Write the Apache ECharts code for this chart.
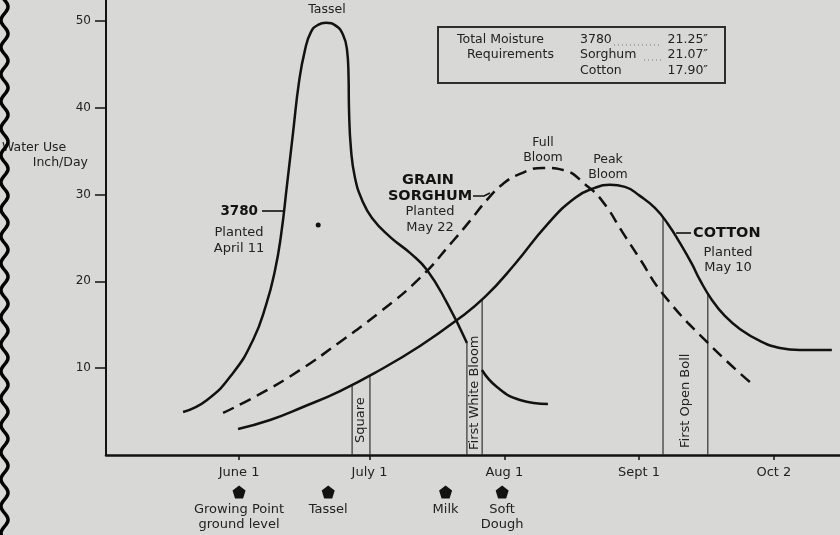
<!DOCTYPE html>
<html><head><meta charset="utf-8">
<script src="https://cdn.jsdelivr.net/npm/echarts@6/dist/echarts.min.js"></script>
<style>html,body{margin:0;padding:0;background:#d8d8d6;}#c{width:840px;height:535px;}</style>
</head><body><div id="c"></div>
<script>
// ---- data (x = days after June 1, y = water use) ----
const xTickDays = [0, 30, 61, 92, 123];
const xTickLabels = ['June 1', 'July 1', 'Aug 1', 'Sept 1', 'Oct 2'];
const yTickValues = [10, 20, 30, 40, 50];

const days3780 = [-12.87,-7.36,-1.38,3.22,6.21,8.28,9.66,11.03,12.41,13.79,15.17,16.55,18.16,20.0,22.30,23.91,24.83,25.17,25.29,25.75,26.67,28.28,30.57,34.71,39.31,43.22,47.82,52.41,54.1,55.86,59.31,64.6,71.03];
const use3780  = [4.95,6.34,9.45,13.25,17.28,21.31,25.35,31.11,37.10,42.97,46.66,48.73,49.54,49.77,49.42,48.39,46.66,43.78,39.75,35.14,31.91,29.38,27.30,25.12,23.27,21.31,17.51,12.90,null,9.79,7.83,6.34,5.88];

const daysSorghum = [-3.68,4.83,14.02,23.22,32.41,41.61,49.2,53.1,57.01,60.69,64.6,69.89,74.48,80.0,83.68,88.28,92.18,97.47,107.82,117.47];
const useSorghum  = [4.84,7.03,9.79,13.02,16.47,20.39,24.65,26.96,29.38,31.22,32.37,33.06,32.83,30.99,29.15,25.58,22.58,18.55,12.9,8.41];

const daysCotton = [-0.23,7.13,14.71,23.22,32.41,41.61,50.11,56.55,63.45,70.8,77.24,81.84,85.29,88.74,92.18,95.63,98.62,101.38,104.14,105.98,108.74,111.72,115.17,119.77,124.37,128.97,136.32];
const useCotton  = [3.0,4.03,5.53,7.37,9.79,12.56,15.55,18.2,22.0,26.5,29.61,30.76,31.11,30.88,29.84,28.46,26.61,24.42,22.0,20.16,17.86,16.01,14.52,13.13,12.33,12.1,12.1];

const boxLabels   = ['Square', 'First White Bloom', 'First Open Boll'];
const boxLeftDay  = [26.0, 52.4, 97.5];
const boxRightDay = [30.1, 55.9, 107.8];
const boxLeftTop  = [8.06, 12.9, 27.3];
const boxRightTop = [9.2, 17.9, 18.5];

const stageLabels = ['Growing Point\nground level', 'Tassel', 'Milk', 'Soft\nDough'];
const stageDays   = [0, 20.5, 47.5, 60.5];

const strayDot = [18.2, 26.5];

// ---- chart ----
const ink = '#121212';
const txt = '#222222';
const FAM = '"DejaVu Sans", sans-serif';
const F = (s, w) => (w || 'normal') + ' ' + s + 'px ' + FAM;
const pair = (xs, ys) => xs.map((x, i) => [x, ys[i] === null ? '-' : ys[i]]);
const boxTextGap = [12, 5, 7];

const wave = [];
for (let y = -10; y <= 545; y += 1) wave.push([4.5 + 3.5 * Math.sin(y * 2 * Math.PI / 27), y]);

const lineBase = { type: 'line', showSymbol: false, smooth: 0.5, silent: true, z: 3 };

const chart = echarts.init(document.getElementById('c'));
chart.setOption({
  backgroundColor: '#d8d8d6',
  animation: false,
  grid: { left: 106, right: 0, top: 0, bottom: 80 },
  xAxis: {
    type: 'value', min: -30.6, max: 138.2,
    axisLine: { onZero: false, lineStyle: { color: ink, width: 2.5 } },
    axisTick: { customValues: xTickDays, length: 5, lineStyle: { color: ink, width: 1.5 } },
    axisLabel: { customValues: xTickDays, formatter: v => xTickLabels[xTickDays.indexOf(v)] || '',
      color: txt, fontFamily: FAM, fontSize: 13, margin: 11 },
    splitLine: { show: false }
  },
  yAxis: {
    type: 'value', min: 0, max: 52.4,
    axisLine: { show: true, onZero: false, lineStyle: { color: ink, width: 2 } },
    axisTick: { show: true, customValues: yTickValues, length: 11, lineStyle: { color: ink, width: 1.5 } },
    axisLabel: { customValues: yTickValues, color: txt, fontFamily: FAM, fontSize: 12, margin: 15 },
    splitLine: { show: false }
  },
  series: [
    Object.assign({}, lineBase, { name: '3780', data: pair(days3780, use3780), connectNulls: false,
      lineStyle: { color: ink, width: 2.5 } }),
    Object.assign({}, lineBase, { name: 'Grain Sorghum', data: pair(daysSorghum, useSorghum),
      lineStyle: { color: ink, width: 2.5, type: [12, 7] } }),
    Object.assign({}, lineBase, { name: 'Cotton', data: pair(daysCotton, useCotton),
      lineStyle: { color: ink, width: 2.5 } }),
    {
      type: 'custom', silent: true, z: 2,
      data: boxLeftDay.map((d, i) => [d, boxRightDay[i], boxLeftTop[i], boxRightTop[i]]),
      encode: { x: [0, 1], y: [2, 3] },
      renderItem: (params, api) => {
        const i = params.dataIndex;
        const b0 = api.coord([api.value(0), 0]), t0 = api.coord([api.value(0), api.value(2)]);
        const b1 = api.coord([api.value(1), 0]), t1 = api.coord([api.value(1), api.value(3)]);
        return { type: 'group', children: [
          { type: 'line', shape: { x1: b0[0], y1: b0[1], x2: t0[0], y2: t0[1] }, style: { stroke: '#333', lineWidth: 1.2 } },
          { type: 'line', shape: { x1: b1[0], y1: b1[1], x2: t1[0], y2: t1[1] }, style: { stroke: '#333', lineWidth: 1.2 } },
          { type: 'text', x: (b0[0] + b1[0]) / 2, y: b0[1] - boxTextGap[i], rotation: Math.PI / 2,
            style: { text: boxLabels[i], font: F(13), fill: txt, align: 'left', verticalAlign: 'middle' } }
        ] };
      }
    },
    {
      type: 'scatter', silent: true, clip: false, z: 4,
      data: stageDays.map((d, i) => ({ value: [d, 0], label: { formatter: stageLabels[i] } })),
      symbol: 'path://M0,-10L9.51,-3.09L5.88,8.09L-5.88,8.09L-9.51,-3.09Z',
      symbolSize: 13, symbolOffset: [0, 37],
      itemStyle: { color: ink, opacity: 1 },
      label: { show: true, position: 'bottom', distance: 4, color: txt, opacity: 1, fontFamily: FAM, fontSize: 13, lineHeight: 15, align: 'center' }
    },
    {
      type: 'scatter', silent: true, z: 4, data: [strayDot], symbolSize: 5, itemStyle: { color: ink, opacity: 1 }
    }
  ],
  graphic: [
    { type: 'text', x: 2, y: 148, style: { text: 'Water Use', font: F(12.5), fill: txt, align: 'left', verticalAlign: 'middle' }, z: 5 },
    { type: 'polyline', shape: { points: wave }, style: { stroke: '#000', lineWidth: 3.5, fill: null }, z: 10 },
    { type: 'text', x: 88, y: 163, style: { text: 'Inch/Day', font: F(12.5), fill: txt, align: 'right', verticalAlign: 'middle' }, z: 5 },
    { type: 'text', x: 327, y: 10, style: { text: 'Tassel', font: F(12.5), fill: txt, align: 'center', verticalAlign: 'middle' }, z: 5 },
    // 3780
    { type: 'text', x: 258, y: 211, style: { text: '3780', font: F(13.5, 'bold'), fill: ink, align: 'right', verticalAlign: 'middle' }, z: 5 },
    { type: 'line', shape: { x1: 262, y1: 211, x2: 284, y2: 211 }, style: { stroke: ink, lineWidth: 1.6 }, z: 5 },
    { type: 'text', x: 239, y: 233, style: { text: 'Planted', font: F(13), fill: txt, align: 'center', verticalAlign: 'middle' }, z: 5 },
    { type: 'text', x: 239, y: 249, style: { text: 'April 11', font: F(13), fill: txt, align: 'center', verticalAlign: 'middle' }, z: 5 },
    // Grain sorghum
    { type: 'text', x: 428, y: 180, style: { text: 'GRAIN', font: F(14.5, 'bold'), fill: ink, align: 'center', verticalAlign: 'middle' }, z: 5 },
    { type: 'text', x: 430, y: 196, style: { text: 'SORGHUM', font: F(14.5, 'bold'), fill: ink, align: 'center', verticalAlign: 'middle' }, z: 5 },
    { type: 'polyline', shape: { points: [[473, 196], [484, 196], [490, 193]] }, style: { stroke: ink, lineWidth: 1.6, fill: null }, z: 5 },
    { type: 'text', x: 430, y: 212, style: { text: 'Planted', font: F(13), fill: txt, align: 'center', verticalAlign: 'middle' }, z: 5 },
    { type: 'text', x: 430, y: 228, style: { text: 'May 22', font: F(13), fill: txt, align: 'center', verticalAlign: 'middle' }, z: 5 },
    // bloom notes
    { type: 'text', x: 543, y: 143, style: { text: 'Full', font: F(12.5), fill: txt, align: 'center', verticalAlign: 'middle' }, z: 5 },
    { type: 'text', x: 543, y: 158, style: { text: 'Bloom', font: F(12.5), fill: txt, align: 'center', verticalAlign: 'middle' }, z: 5 },
    { type: 'text', x: 608, y: 160, style: { text: 'Peak', font: F(12.5), fill: txt, align: 'center', verticalAlign: 'middle' }, z: 5 },
    { type: 'text', x: 608, y: 175, style: { text: 'Bloom', font: F(12.5), fill: txt, align: 'center', verticalAlign: 'middle' }, z: 5 },
    // cotton
    { type: 'line', shape: { x1: 676, y1: 233, x2: 691, y2: 233 }, style: { stroke: ink, lineWidth: 1.6 }, z: 5 },
    { type: 'text', x: 693, y: 233, style: { text: 'COTTON', font: F(14.5, 'bold'), fill: ink, align: 'left', verticalAlign: 'middle' }, z: 5 },
    { type: 'text', x: 728, y: 253, style: { text: 'Planted', font: F(13), fill: txt, align: 'center', verticalAlign: 'middle' }, z: 5 },
    { type: 'text', x: 728, y: 268, style: { text: 'May 10', font: F(13), fill: txt, align: 'center', verticalAlign: 'middle' }, z: 5 },
    // moisture box
    { type: 'rect', shape: { x: 438, y: 27, width: 287, height: 56 }, style: { stroke: '#2e2e2e', lineWidth: 2, fill: null }, z: 5 },
    { type: 'text', x: 457, y: 40, style: { text: 'Total Moisture', font: F(12.5), fill: txt, align: 'left', verticalAlign: 'middle' }, z: 5 },
    { type: 'text', x: 467, y: 55, style: { text: 'Requirements', font: F(12.5), fill: txt, align: 'left', verticalAlign: 'middle' }, z: 5 },
    { type: 'text', x: 580, y: 40, style: { text: '3780', font: F(12.5), fill: txt, align: 'left', verticalAlign: 'middle' }, z: 5 },
    { type: 'text', x: 580, y: 55, style: { text: 'Sorghum', font: F(12.5), fill: txt, align: 'left', verticalAlign: 'middle' }, z: 5 },
    { type: 'text', x: 580, y: 71, style: { text: 'Cotton', font: F(12.5), fill: txt, align: 'left', verticalAlign: 'middle' }, z: 5 },
    { type: 'line', shape: { x1: 614, y1: 45, x2: 660, y2: 45 }, style: { stroke: '#777', lineWidth: 1, lineDash: [1, 3] }, z: 5 },
    { type: 'line', shape: { x1: 644, y1: 60, x2: 662, y2: 60 }, style: { stroke: '#777', lineWidth: 1, lineDash: [1, 3] }, z: 5 },
    { type: 'text', x: 708, y: 40, style: { text: '21.25\u2033', font: F(12.5), fill: txt, align: 'right', verticalAlign: 'middle' }, z: 5 },
    { type: 'text', x: 708, y: 55, style: { text: '21.07\u2033', font: F(12.5), fill: txt, align: 'right', verticalAlign: 'middle' }, z: 5 },
    { type: 'text', x: 708, y: 71, style: { text: '17.90\u2033', font: F(12.5), fill: txt, align: 'right', verticalAlign: 'middle' }, z: 5 }
  ]
});
</script>
</body></html>
